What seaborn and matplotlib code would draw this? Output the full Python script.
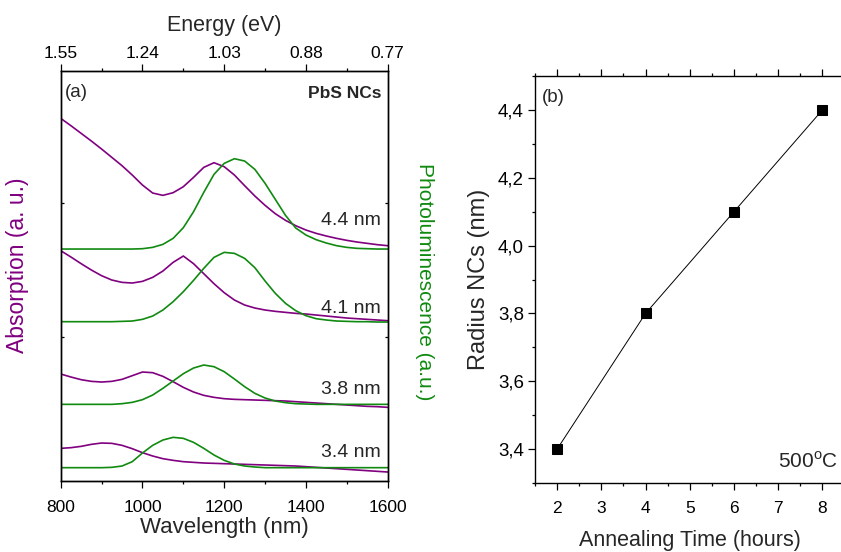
import matplotlib
matplotlib.use("Agg")
import matplotlib.pyplot as plt
import seaborn as sns
from matplotlib.ticker import MultipleLocator, FixedLocator, FuncFormatter

# ---------------- data (panel a) ----------------
wavelength = [800, 825, 850, 875, 900, 925, 950, 975, 1000, 1025, 1050, 1075, 1100,
              1125, 1150, 1175, 1200, 1225, 1250, 1275, 1300, 1325, 1350, 1375, 1400,
              1425, 1450, 1475, 1500, 1525, 1550, 1575, 1600]

abs_44 = [1088, 1066, 1043, 1020, 996, 971, 946, 918, 888, 864, 857, 865, 883,
          911, 941, 955, 943, 918, 886, 855, 827, 802, 782, 766, 753,
          743, 735, 728, 722, 717, 713, 709, 706]
pl_44 = [696, 696, 696, 696, 696, 696, 696, 696, 697, 701, 710, 728, 760,
         808, 866, 920, 953, 967, 960, 935, 893, 845, 797, 759, 738,
         724, 714, 706, 701, 698, 697, 696, 696]

abs_41 = [691, 672, 652, 633, 616, 603, 596, 594, 599, 611, 630, 656, 675,
          652, 622, 592, 565, 543, 528, 519, 513, 509, 506, 503, 501,
          498, 495, 492, 489, 487, 485, 483, 481]
pl_41 = [478, 478, 478, 478, 478, 478, 479, 480, 485, 495, 513, 538, 568,
         602, 638, 671, 686, 683, 668, 640, 600, 563, 533, 511, 496,
         487, 483, 480, 479, 478, 478, 477, 477]

abs_38 = [321, 312, 304, 299, 297, 299, 305, 316, 327, 325, 314, 298, 281,
          267, 257, 251, 247, 245, 244, 243, 242, 241, 240, 238, 236,
          234, 232, 230, 228, 226, 224, 223, 221]
pl_38 = [230, 230, 230, 230, 230, 230, 232, 236, 244, 258, 278, 300, 322,
         339, 348, 343, 328, 306, 283, 263, 249, 240, 235, 232, 231,
         230, 230, 230, 230, 230, 230, 230, 230]

abs_34 = [98, 100, 104, 110, 114, 113, 107, 97, 85, 75, 67, 62, 58,
          56, 54, 53, 52, 51, 50, 49, 48, 47, 46, 45, 43,
          41, 39, 37, 35, 33, 31, 29, 27]
pl_34 = [40, 40, 40, 40, 40, 41, 45, 58, 84, 107, 123, 131, 128,
         116, 98, 78, 62, 51, 45, 42, 40, 40, 40, 40, 40,
         40, 40, 40, 40, 40, 40, 40, 40]

size_labels = ["4.4 nm", "4.1 nm", "3.8 nm", "3.4 nm"]
size_label_y = [782, 518, 276, 86]

wl_major = [800, 1000, 1200, 1400, 1600]
energy_labels = ["1.55", "1.24", "1.03", "0.88", "0.77"]

# ---------------- data (panel b) ----------------
anneal_time = [2, 4, 6, 8]
radius = [3.4, 3.8, 4.1, 4.4]

PURPLE = "#800080"
GREEN = "#108a10"

sns.set_theme(style="ticks")
plt.rcParams["font.family"] = ["Liberation Sans", "DejaVu Sans"]
plt.rcParams["mathtext.fontset"] = "custom"
plt.rcParams["mathtext.rm"] = "Liberation Sans"
plt.rcParams["axes.edgecolor"] = "black"
plt.rcParams["axes.linewidth"] = 1.0
plt.rcParams["xtick.color"] = "black"
plt.rcParams["ytick.color"] = "black"
plt.rcParams["lines.solid_joinstyle"] = "round"

fig = plt.figure(figsize=(8.41, 5.52), dpi=100)

# ---------------- panel a ----------------
axA = fig.add_axes([0.0722, 0.1286, 0.3888, 0.7433])
pairs = [(abs_44, pl_44), (abs_41, pl_41), (abs_38, pl_38), (abs_34, pl_34)]
for a, p in pairs:
    sns.lineplot(x=wavelength, y=a, ax=axA, color=PURPLE, lw=1.2, estimator=None)
    sns.lineplot(x=wavelength, y=p, ax=axA, color=GREEN, lw=1.2, estimator=None)

axA.set_xlim(800, 1600)
axA.set_ylim(0, 1231)
axA.xaxis.set_major_locator(FixedLocator(wl_major))
axA.xaxis.set_minor_locator(MultipleLocator(100))
axA.set_yticks([432, 834])
axA.tick_params(axis="x", which="major", direction="out", length=5, width=0.9,
                labelsize=12.5, pad=9, top=False)
axA.tick_params(axis="x", which="minor", direction="out", length=2.5, width=0.9, top=False)
axA.tick_params(axis="y", which="major", direction="in", length=2.5, width=0.9,
                left=True, right=True, labelleft=False)
axA.set_xlabel("Wavelength (nm)", fontsize=16, labelpad=1)
axA.set_ylabel("")

for lab, yv in zip(size_labels, size_label_y):
    axA.text(1583, yv, lab, ha="right", va="center", fontsize=14)

axA.text(0.013, 0.948, "(a)", transform=axA.transAxes, ha="left", va="center", fontsize=13.5)
axA.text(0.982, 0.944, "PbS NCs", transform=axA.transAxes, ha="right", va="center",
         fontsize=12.5, fontweight="bold")

axT = axA.twiny()
axT.set_xlim(800, 1600)
axT.xaxis.set_major_locator(FixedLocator(wl_major))
axT.set_xticklabels(energy_labels)
axT.xaxis.set_minor_locator(MultipleLocator(100))
axT.tick_params(axis="x", which="major", direction="out", length=5, width=0.9,
                labelsize=12.5, pad=2)
axT.tick_params(axis="x", which="minor", direction="out", length=2.5, width=0.9)
axT.set_xlabel("Energy (eV)", fontsize=15.5, labelpad=11)

fig.text(18 / 841, 1 - 265 / 552, "Absorption (a. u.)", rotation=90, color=PURPLE,
         fontsize=16.5, ha="center", va="center")
fig.text(425 / 841, 1 - 282 / 552, "Photoluminescence (a.u.)", rotation=270, color=GREEN,
         fontsize=15, ha="center", va="center")

# ---------------- panel b ----------------
axB = fig.add_axes([0.6362, 0.125, 0.368, 0.7373])
sns.lineplot(x=anneal_time, y=radius, ax=axB, color="black", lw=0.7, marker="s",
             markersize=7.5, markeredgecolor="black", markerfacecolor="black", estimator=None)
axB.set_xlim(1.5, 8.5)
axB.set_ylim(3.3, 4.5)
axB.xaxis.set_major_locator(MultipleLocator(1))
axB.xaxis.set_minor_locator(MultipleLocator(0.5))
axB.yaxis.set_major_locator(MultipleLocator(0.2))
axB.yaxis.set_minor_locator(MultipleLocator(0.1))
axB.yaxis.set_major_formatter(FuncFormatter(lambda v, p: f"{v:.1f}".replace(".", ",")))
axB.tick_params(axis="both", which="major", direction="out", length=5, width=0.9, pad=3)
axB.tick_params(axis="both", which="minor", direction="out", length=2.5, width=0.9)
axB.tick_params(axis="y", which="major", labelsize=13.5)
axB.tick_params(axis="x", which="major", labelsize=12.5, pad=8)
axB.tick_params(axis="x", which="both", top=True, labeltop=False)
axB.set_xlabel("Annealing Time (hours)", fontsize=15.5, labelpad=10)
axB.set_ylabel("Radius NCs (nm)", fontsize=17, labelpad=6)
axB.text(0.022, 0.948, "(b)", transform=axB.transAxes, ha="left", va="center", fontsize=13.5)
axB.text(0.979, 0.052, r"500$^{\mathrm{o}}$C", transform=axB.transAxes, ha="right",
         va="center", fontsize=15)

fig.savefig("out.png", dpi=100)
